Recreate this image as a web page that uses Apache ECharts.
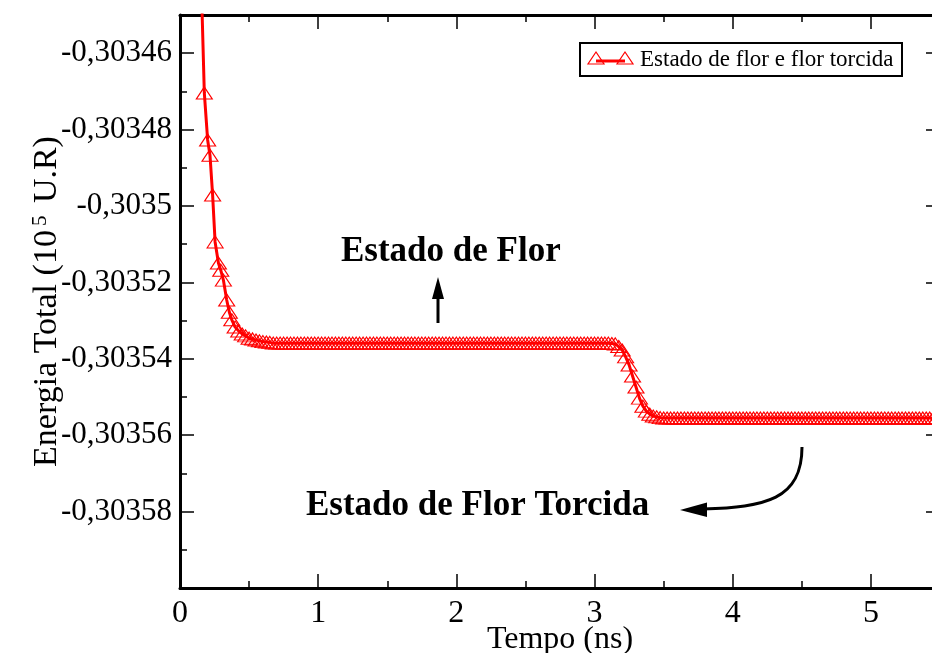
<!DOCTYPE html>
<html>
<head>
<meta charset="utf-8">
<script src="https://cdn.jsdelivr.net/npm/echarts@6/dist/echarts.min.js"></script>
<style>
  html, body { margin: 0; padding: 0; background: #fff; }
  #chart { width: 932px; height: 653px; }
</style>
</head>
<body>
<div id="chart"></div>
<script>
// Simulation time (ns)
const tempo = [
  0.15, 0.176, 0.2, 0.217, 0.236, 0.254, 0.278, 0.295, 0.314, 0.338, 0.357, 0.375, 0.399,
  0.425, 0.45, 0.475, 0.5, 0.525, 0.55, 0.575, 0.6, 0.625,
  0.65, 0.675, 0.7, 0.725, 0.75, 0.775, 0.8, 0.825, 0.85, 0.875,
  0.9, 0.925, 0.95, 0.975, 1, 1.025, 1.05, 1.075, 1.1, 1.125,
  1.15, 1.175, 1.2, 1.225, 1.25, 1.275, 1.3, 1.325, 1.35, 1.375,
  1.4, 1.425, 1.45, 1.475, 1.5, 1.525, 1.55, 1.575, 1.6, 1.625,
  1.65, 1.675, 1.7, 1.725, 1.75, 1.775, 1.8, 1.825, 1.85, 1.875,
  1.9, 1.925, 1.95, 1.975, 2, 2.025, 2.05, 2.075, 2.1, 2.125,
  2.15, 2.175, 2.2, 2.225, 2.25, 2.275, 2.3, 2.325, 2.35, 2.375,
  2.4, 2.425, 2.45, 2.475, 2.5, 2.525, 2.55, 2.575, 2.6, 2.625,
  2.65, 2.675, 2.7, 2.725, 2.75, 2.775, 2.8, 2.825, 2.85, 2.875,
  2.9, 2.925, 2.95, 2.975, 3, 3.025, 3.05, 3.075, 3.1, 3.125,
  3.15, 3.175, 3.2, 3.225, 3.25, 3.275, 3.3, 3.325, 3.35, 3.375,
  3.4, 3.425, 3.45, 3.475, 3.5, 3.525, 3.55, 3.575, 3.6, 3.625,
  3.65, 3.675, 3.7, 3.725, 3.75, 3.775, 3.8, 3.825, 3.85, 3.875,
  3.9, 3.925, 3.95, 3.975, 4, 4.025, 4.05, 4.075, 4.1, 4.125,
  4.15, 4.175, 4.2, 4.225, 4.25, 4.275, 4.3, 4.325, 4.35, 4.375,
  4.4, 4.425, 4.45, 4.475, 4.5, 4.525, 4.55, 4.575, 4.6, 4.625,
  4.65, 4.675, 4.7, 4.725, 4.75, 4.775, 4.8, 4.825, 4.85, 4.875,
  4.9, 4.925, 4.95, 4.975, 5, 5.025, 5.05, 5.075, 5.1, 5.125,
  5.15, 5.175, 5.2, 5.225, 5.25, 5.275, 5.3, 5.325, 5.35, 5.375,
  5.4, 5.425, 5.45, 5.475, 5.5
];

// Total energy (10^5 U.R)
const energiaTotal = [
  -0.3034364, -0.3034704, -0.3034827, -0.3034867, -0.3034971, -0.3035094, -0.3035149, -0.3035168, -0.3035194, -0.3035246, -0.3035278, -0.3035298, -0.3035317,
  -0.3035327, -0.3035335, -0.303534, -0.3035346, -0.3035348, -0.3035351, -0.3035353, -0.3035355, -0.3035356,
  -0.3035357, -0.3035359, -0.3035359, -0.3035359, -0.3035359, -0.3035359, -0.3035359, -0.3035359, -0.3035359, -0.3035359,
  -0.3035359, -0.3035359, -0.3035359, -0.3035359, -0.3035359, -0.3035359, -0.3035359, -0.3035359, -0.3035359, -0.3035359,
  -0.3035359, -0.3035359, -0.3035359, -0.3035359, -0.3035359, -0.3035359, -0.3035359, -0.3035359, -0.3035359, -0.3035359,
  -0.3035359, -0.3035359, -0.3035359, -0.3035359, -0.3035359, -0.3035359, -0.3035359, -0.3035359, -0.3035359, -0.3035359,
  -0.3035359, -0.3035359, -0.3035359, -0.3035359, -0.3035359, -0.3035359, -0.3035359, -0.3035359, -0.3035359, -0.3035359,
  -0.3035359, -0.3035359, -0.3035359, -0.3035359, -0.3035359, -0.3035359, -0.3035359, -0.3035359, -0.3035359, -0.3035359,
  -0.3035359, -0.3035359, -0.3035359, -0.3035359, -0.3035359, -0.3035359, -0.3035359, -0.3035359, -0.3035359, -0.3035359,
  -0.3035359, -0.3035359, -0.3035359, -0.3035359, -0.3035359, -0.3035359, -0.3035359, -0.3035359, -0.3035359, -0.3035359,
  -0.3035359, -0.3035359, -0.3035359, -0.3035359, -0.3035359, -0.3035359, -0.3035359, -0.3035359, -0.3035359, -0.3035359,
  -0.3035359, -0.3035359, -0.3035359, -0.3035359, -0.3035359, -0.3035359, -0.3035359, -0.3035359, -0.3035359, -0.303536,
  -0.3035361, -0.3035368, -0.3035377, -0.3035395, -0.3035416, -0.3035445, -0.3035474, -0.3035503, -0.3035524, -0.3035537,
  -0.3035545, -0.303555, -0.3035552, -0.3035554, -0.3035555, -0.3035555, -0.3035555, -0.3035555, -0.3035555, -0.3035555,
  -0.3035555, -0.3035555, -0.3035555, -0.3035555, -0.3035555, -0.3035555, -0.3035555, -0.3035555, -0.3035555, -0.3035555,
  -0.3035555, -0.3035555, -0.3035555, -0.3035555, -0.3035555, -0.3035555, -0.3035555, -0.3035555, -0.3035555, -0.3035555,
  -0.3035555, -0.3035555, -0.3035555, -0.3035555, -0.3035555, -0.3035555, -0.3035555, -0.3035555, -0.3035555, -0.3035555,
  -0.3035555, -0.3035555, -0.3035555, -0.3035555, -0.3035555, -0.3035555, -0.3035555, -0.3035555, -0.3035555, -0.3035555,
  -0.3035555, -0.3035555, -0.3035555, -0.3035555, -0.3035555, -0.3035555, -0.3035555, -0.3035555, -0.3035555, -0.3035555,
  -0.3035555, -0.3035555, -0.3035555, -0.3035555, -0.3035555, -0.3035555, -0.3035555, -0.3035555, -0.3035555, -0.3035555,
  -0.3035555, -0.3035555, -0.3035555, -0.3035555, -0.3035555, -0.3035555, -0.3035555, -0.3035555, -0.3035555, -0.3035555,
  -0.3035555, -0.3035555, -0.3035555, -0.3035555, -0.3035555
];

const serieNome = 'Estado de flor e flor torcida';
const rotuloFlor = 'Estado de Flor';
const rotuloTorcida = 'Estado de Flor Torcida';

const SERIF = '"Liberation Serif", "Times New Roman", serif';
const RED = '#ff0000';

const dados = tempo.map((t, i) => [t, energiaTotal[i]]);

const X_MIN = 0, X_MAX = 5.5;
const Y_MIN = -0.3036, Y_MAX = -0.30345;

function fmtEnergia(v) {
  if (v < -0.3035805 || v > -0.3034595) return '';
  return v.toFixed(5).replace(/0+$/, '').replace('.', ',');
}

function eixoX(position, interval, tickLen, major) {
  return {
    type: 'value', position, min: X_MIN, max: X_MAX, interval,
    axisLine: { show: major, onZero: false, lineStyle: { color: '#000', width: 3 } },
    axisTick: { show: true, inside: true, length: tickLen, lineStyle: { color: '#000', width: 1.5 } },
    axisLabel: { show: false },
    splitLine: { show: false }
  };
}
function eixoY(position, interval, tickLen, major) {
  return {
    type: 'value', position, min: Y_MIN, max: Y_MAX, interval,
    axisLine: { show: major, onZero: false, lineStyle: { color: '#000', width: 3 } },
    axisTick: { show: true, inside: true, length: tickLen, lineStyle: { color: '#000', width: 1.5 } },
    axisLabel: { show: false },
    splitLine: { show: false }
  };
}

const xPrincipal = eixoX('bottom', 1, 14, true);
xPrincipal.axisLabel = {
  show: true, color: '#000', fontSize: 32, fontFamily: SERIF, margin: 10,
  formatter: v => (Number.isInteger(v) && v < X_MAX) ? String(v) : ''
};
xPrincipal.name = 'Tempo (ns)';
xPrincipal.nameLocation = 'middle';
xPrincipal.nameGap = 36;
xPrincipal.nameMoveOverlap = false;
xPrincipal.nameTextStyle = { color: '#000', fontSize: 32, fontFamily: SERIF };

const yPrincipal = eixoY('left', 0.00002, 14, true);
yPrincipal.axisLabel = {
  show: true, color: '#000', fontSize: 31, fontFamily: SERIF, margin: 8,
  formatter: fmtEnergia
};
yPrincipal.name = 'Energia Total (10{sup|5} U.R)';
yPrincipal.nameLocation = 'middle';
yPrincipal.nameRotate = 90;
yPrincipal.nameGap = 115;
yPrincipal.nameMoveOverlap = false;
yPrincipal.nameTextStyle = {
  color: '#000', fontSize: 34, fontFamily: SERIF,
  rich: { sup: { fontSize: 21, fontFamily: SERIF, color: '#000', verticalAlign: 'top', padding: [0, 4, 14, 4] } }
};

const option = {
  backgroundColor: '#fff',
  animation: false,
  grid: { left: 180, top: 15, right: -8, bottom: 65, containLabel: false, outerBoundsMode: 'none' },
  xAxis: [
    xPrincipal,
    eixoX('bottom', 0.5, 7, false),
    eixoX('top', 1, 14, true),
    eixoX('top', 0.5, 7, false)
  ],
  yAxis: [
    yPrincipal,
    eixoY('left', 0.00001, 7, false),
    eixoY('right', 0.00002, 14, true),
    eixoY('right', 0.00001, 7, false)
  ],
  series: [{
    name: serieNome,
    type: 'line',
    xAxisIndex: 0,
    yAxisIndex: 0,
    data: dados,
    clip: true,
    showSymbol: true,
    showAllSymbol: true,
    symbol: 'triangle',
    symbolSize: [16, 12],
    itemStyle: { color: 'rgba(255,0,0,0)', borderColor: RED, borderWidth: 1.1 },
    lineStyle: { color: RED, width: 3 },
    emphasis: { disabled: true }
  }],
  graphic: [
    // legend box
    { type: 'rect', shape: { x: 580, y: 43, width: 322, height: 33 },
      style: { fill: '#fff', stroke: '#000', lineWidth: 2 }, z: 100 },
    { type: 'line', shape: { x1: 596, y1: 61, x2: 625, y2: 61 },
      style: { stroke: RED, lineWidth: 3 }, z: 101 },
    { type: 'polygon', shape: { points: [[596, 52], [588, 64], [604, 64]] },
      style: { fill: 'none', stroke: RED, lineWidth: 1.2 }, z: 102 },
    { type: 'polygon', shape: { points: [[625, 52], [617, 64], [633, 64]] },
      style: { fill: 'none', stroke: RED, lineWidth: 1.2 }, z: 102 },
    { type: 'text', x: 640, y: 60, z: 102,
      style: { text: serieNome, fill: '#000', font: '23px ' + SERIF, textAlign: 'left', textVerticalAlign: 'middle' } },

    // annotations
    { type: 'text', x: 341, y: 252, z: 50,
      style: { text: rotuloFlor, fill: '#000', font: 'bold 35px ' + SERIF, textAlign: 'left', textVerticalAlign: 'middle' } },
    { type: 'line', shape: { x1: 438, y1: 323, x2: 438, y2: 295 },
      style: { stroke: '#000', lineWidth: 3 }, z: 50 },
    { type: 'polygon', shape: { points: [[438, 277], [432, 299], [444, 299]] },
      style: { fill: '#000' }, z: 50 },

    { type: 'text', x: 306, y: 506, z: 50,
      style: { text: rotuloTorcida, fill: '#000', font: 'bold 35px ' + SERIF, textAlign: 'left', textVerticalAlign: 'middle' } },
    { type: 'bezierCurve',
      shape: { x1: 802, y1: 447, cpx1: 802, cpy1: 500, cpx2: 765, cpy2: 507, x2: 703, y2: 509 },
      style: { stroke: '#000', lineWidth: 3, fill: 'none' }, z: 50 },
    { type: 'polygon', shape: { points: [[680, 510], [707, 502.5], [707, 517]] },
      style: { fill: '#000' }, z: 50 }
  ]
};

const chart = echarts.init(document.getElementById('chart'), null, { renderer: 'canvas' });
chart.setOption(option);
</script>
</body>
</html>
